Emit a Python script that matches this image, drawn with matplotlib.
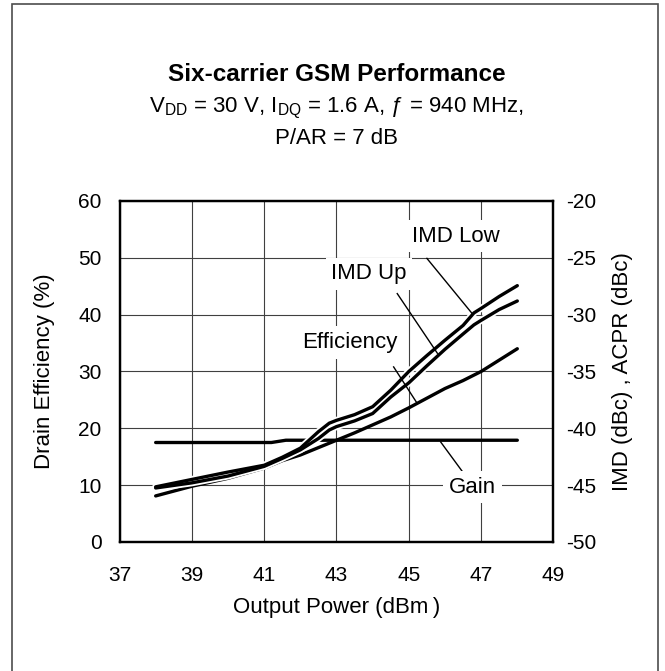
import numpy as np
import matplotlib
matplotlib.use("Agg")
import matplotlib.pyplot as plt
from matplotlib.patches import Rectangle

plt.rcParams['font.family'] = ['Liberation Sans', 'DejaVu Sans']
plt.rcParams['mathtext.fontset'] = 'custom'
plt.rcParams['mathtext.rm'] = 'Liberation Sans'
plt.rcParams['mathtext.it'] = 'Liberation Sans:italic'
plt.rcParams['axes.unicode_minus'] = False

# output power (dBm)
pout = [38, 39, 40, 41, 41.5, 42, 42.5, 42.8, 43, 43.5, 44, 44.5, 45, 45.5, 46, 46.5, 46.8, 47, 47.5, 48]
# IMD (dBc), right axis
imd_low = [-45.15, -44.5, -43.85, -43.25, -42.55, -41.75, -40.3, -39.55, -39.3, -38.8,
           -38.1, -36.65, -35.0, -33.6, -32.25, -30.95, -29.85, -29.45, -28.4, -27.45]
imd_up = [-45.25, -44.8, -44.2, -43.35, -42.65, -41.9, -40.9, -40.15, -39.85, -39.35,
          -38.7, -37.25, -36.0, -34.5, -33.05, -31.7, -30.9, -30.5, -29.55, -28.8]

# drain efficiency (%)
eff_x = [38, 39, 40, 41, 41.5, 42, 42.5, 43, 43.5, 44, 44.5, 45, 45.5, 46, 46.5, 47, 47.5, 48]
eff = [8.1, 9.8, 11.2, 13.0, 14.3, 15.3, 16.6, 17.9, 19.2, 20.6, 22.0, 23.6, 25.3, 27.0, 28.4, 30.0, 32.0, 34.0]

# gain (dB)
gain_x = [38, 41.2, 41.6, 48]
gain = [17.5, 17.5, 17.9, 17.9]

xticks = [37, 39, 41, 43, 45, 47, 49]
yticks_left = [0, 10, 20, 30, 40, 50, 60]
yticks_right = [-50, -45, -40, -35, -30, -25, -20]

fig = plt.figure(figsize=(6.65, 6.71), dpi=100)
ax = fig.add_axes([0.1797, 0.1923, 0.6526, 0.5082])
ax2 = ax.twinx()

ax.set_xlim(37, 49)
ax.set_ylim(0, 60)
ax2.set_ylim(-50, -20)
ax.set_xticks(xticks)
ax.set_yticks(yticks_left)
ax2.set_yticks(yticks_right)

ax.grid(True, color='0.25', lw=0.8)
ax.set_axisbelow(True)
ax.tick_params(axis='both', length=0, labelsize=15)
ax.tick_params(axis='x', pad=17)
ax.tick_params(axis='y', pad=13)
ax2.tick_params(axis='y', length=0, labelsize=15, pad=9)
for a in (ax, ax2):
    for s in a.spines.values():
        s.set_linewidth(1.6)

ax.plot(eff_x, eff, color='black', lw=2.4, solid_capstyle='round')
ax.plot(gain_x, gain, color='black', lw=2.4, solid_capstyle='round')
# white outline under both IMD traces, then the black traces on top
for y in (imd_up, imd_low):
    ax2.plot(pout, y, color='white', lw=5, solid_capstyle='round', zorder=2)
for y in (imd_up, imd_low):
    ax2.plot(pout, y, color='black', lw=2.4, solid_capstyle='round', zorder=3)

box = dict(fc='white', ec='none', pad=4)
labels = [("IMD Low", (46.3, 53.8), (45.5, 49.9), (46.75, 40.2)),
          ("IMD Up", (43.9, 47.2), (44.68, 43.7), (45.79, 33.2)),
          ("Efficiency", (43.38, 35.1), (44.58, 30.8), (45.23, 24.4)),
          ("Gain", (46.76, 9.6), (46.48, 12.4), (45.88, 17.6))]
for txt, tpos, p0, p1 in labels:
    ax2.plot([p0[0], p1[0]], [p0[1] / 2 - 50, p1[1] / 2 - 50], color='black', lw=1, zorder=5)
    ax2.text(tpos[0], tpos[1] / 2 - 50, txt, ha='center', va='center', fontsize=16, bbox=box, zorder=6)

ax.set_xlabel("Output Power (dBm\u2009)", fontsize=16)
ax.xaxis.set_label_coords(0.5, -0.192)
ax.xaxis.label.set_va('center')
ax.set_ylabel("Drain Efficiency (%)", fontsize=16, va='center')
ax.yaxis.set_label_coords(-0.172, 0.5)
ax2.set_ylabel("IMD (dBc) , ACPR (dBc)", fontsize=16, va='center')
ax2.yaxis.set_label_coords(1.16, 0.5)

fig.text(0.506, 0.889, "Six-carrier GSM Performance", ha='center', va='center',
         fontsize=17.5, fontweight='bold')
fig.text(0.506, 0.838, r"V$_{\mathrm{DD}}$ = 30 V, I$_{\mathrm{DQ}}$ = 1.6 A, ƒ = 940 MHz,",
         ha='center', va='center', fontsize=16)
fig.text(0.506, 0.794, "P/AR = 7 dB", ha='center', va='center', fontsize=16)

fig.patches.append(Rectangle((12 / 665, -0.05), 646 / 665, 1.05 - 4 / 671,
                             transform=fig.transFigure, fill=False, ec='0.3', lw=1.2))

fig.savefig("out.png", dpi=100)
